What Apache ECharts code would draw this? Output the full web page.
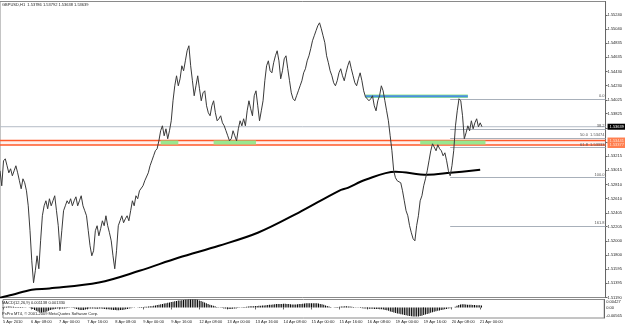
<!DOCTYPE html>
<html><head><meta charset="utf-8">
<script src="https://cdn.jsdelivr.net/npm/echarts@6/dist/echarts.min.js"></script>
<style>html,body{margin:0;padding:0;background:#fff}#c{width:625px;height:326px}</style>
</head><body><div id="c"></div>
<script>
// ---- data (GBPUSD H1, 5 Apr 16:00 .. 21 Apr 01:00) ----
const closes = [
1.53007,1.52792,1.53150,1.53179,1.53079,1.52978,1.53036,1.52935,1.53007,1.53079,
1.52978,1.52864,1.52749,1.52892,1.52835,1.52720,
1.52505,1.52147,1.51716,1.51401,
1.51573,1.51788,1.51602,1.52003,1.52362,
1.52505,1.52577,1.52462,1.52606,1.52505,
1.52577,1.52649,1.52434,1.52219,1.51860,
1.52147,1.52434,1.52505,1.52577,1.52534,
1.52606,1.52505,1.52577,1.52634,1.52505,
1.52577,1.52649,1.52505,1.52434,1.52362,
1.52147,1.51932,1.51788,1.51860,1.52147,
1.52219,1.52075,1.52176,1.52290,1.52219,
1.52362,1.52219,1.52118,1.52003,1.51788,
1.51602,1.51860,1.52219,1.52290,1.52362,
1.52262,1.52319,1.52362,1.52290,1.52434,
1.52577,1.52505,1.52649,1.52606,1.52720,
1.52692,1.52792,1.52864,1.52892,1.52978,
1.53079,1.53150,1.53222,1.53294,1.53323,
1.53437,1.53581,1.53652,1.53509,1.53609,
1.53466,1.53581,1.53724,1.54011,1.54226,
1.54369,1.54226,1.54326,1.54513,1.54441,
1.54584,1.54728,1.54800,1.54513,1.54298,
1.54083,1.54226,1.54369,1.54183,1.54011,
1.54125,1.54154,1.53939,1.53839,1.53796,
1.53939,1.54011,1.53839,1.53724,1.53753,
1.53796,1.53695,1.53652,1.53581,1.53509,
1.53437,1.53466,1.53581,1.53509,1.53437,
1.53609,1.53724,1.53652,1.53753,1.53652,
1.53867,1.54011,1.53896,1.53796,1.54083,
1.54154,1.53939,1.53724,1.53867,1.54011,
1.54298,1.54513,1.54584,1.54441,1.54412,
1.54556,1.54656,1.54728,1.54584,1.54326,
1.54441,1.54613,1.54656,1.54470,1.54298,
1.54125,1.54040,1.54011,1.54083,1.54154,
1.54226,1.54298,1.54412,1.54470,1.54584,
1.54656,1.54757,1.54871,1.54943,1.55015,
1.55086,1.55129,1.55043,1.54943,1.54843,
1.54656,1.54556,1.54441,1.54369,1.54269,
1.54226,1.54298,1.54412,1.54470,1.54369,
1.54298,1.54412,1.54513,1.54584,1.54470,
1.54369,1.54269,1.54226,1.54326,1.54412,
1.54298,1.54154,1.54068,1.54083,1.54011,
1.54040,1.54083,1.53939,1.53867,1.54011,
1.54083,1.54226,1.54154,1.54011,1.53867,
1.53724,1.53509,1.53294,1.53007,1.52907,
1.52864,1.52892,1.52835,1.52720,1.52577,
1.52434,1.52362,1.52219,1.52118,1.52032,
1.52003,1.52219,1.52362,1.52577,1.52649,
1.52792,1.52892,1.53007,1.53150,1.53294,
1.53394,1.53366,1.53294,1.53380,1.53323,
1.53294,1.53222,1.53265,1.53150,1.53007,
1.52935,1.53079,1.53294,1.53652,1.53867,
1.54040,1.54011,1.53796,1.53466,1.53552,
1.53652,1.53581,1.53724,1.53609,1.53695,
1.53753,1.53638,1.53695,1.53639
];
// moving average read at sample bars: [bar index, price]
const maPoints = [[0,1.51186],[7,1.51229],[18,1.51301],[28,1.51320],[56,1.51405],[79,1.51573],
[101,1.51760],[124,1.51932],[146,1.52118],[169,1.52405],[192,1.52720],[197,1.52763],
[207,1.52878],[224,1.52993],[242,1.52950],[255,1.52978],[272,1.53021]];
const macdHist = [
0.0003,0.0004,0.0004,0.0005,0.0005,0.0004,0.0004,0.0003,0.0003,0.0003,0.0002,0.0002,0.0001,0.0001,0.0000,-0.0002,-0.0004,-0.0008,
-0.0013,-0.0018,-0.0022,-0.0025,-0.0027,-0.0026,-0.0024,-0.0021,-0.0018,-0.0014,-0.0011,
-0.0009,-0.0007,-0.0005,-0.0004,-0.0005,-0.0006,-0.0005,-0.0004,-0.0003,-0.0002,-0.0002,
-0.0003,-0.0005,-0.0008,-0.0011,-0.0013,-0.0014,-0.0013,-0.0011,-0.0008,-0.0006,-0.0005,
-0.0005,-0.0006,-0.0007,-0.0007,-0.0006,-0.0006,
-0.0007,-0.0008,-0.0009,-0.0010,-0.0011,-0.0012,-0.0013,-0.0014,-0.0015,-0.0015,-0.0014,-0.0013,-0.0012,-0.0010,-0.0008,-0.0006,-0.0004,
-0.0002,-0.0001,0.0000,0.0001,0.0002,0.0003,0.0003,0.0004,0.0004,0.0005,0.0006,0.0007,0.0009,0.0011,
0.0013,0.0015,0.0017,0.0019,0.0021,0.0023,0.0025,0.0027,0.0029,0.0031,0.0033,0.0035,0.0037,0.0038,0.0039,0.0040,0.0041,0.0042,0.0043,0.0044,0.0044,0.0044,0.0043,0.0041,0.0038,
0.0035,0.0031,0.0027,0.0023,0.0019,0.0015,0.0012,0.0009,0.0006,
0.0003,0.0001,-0.0001,-0.0003,-0.0005,-0.0006,-0.0007,-0.0008,-0.0008,-0.0007,-0.0006,-0.0005,-0.0003,-0.0001,
0.0001,0.0002,0.0003,0.0004,0.0005,0.0006,0.0006,0.0007,0.0008,0.0008,0.0009,0.0009,0.0010,0.0011,0.0012,0.0013,0.0014,
0.0015,0.0016,0.0017,0.0018,0.0018,0.0019,0.0019,0.0020,0.0020,0.0019,0.0018,0.0017,0.0016,0.0016,0.0016,0.0017,0.0018,0.0019,0.0020,0.0021,0.0022,0.0022,0.0023,0.0023,0.0023,0.0022,0.0022,0.0021,0.0019,0.0017,0.0014,0.0011,0.0008,0.0005,
0.0002,0.0000,0.0001,0.0002,0.0003,0.0004,
0.0005,0.0005,0.0006,0.0006,0.0005,0.0005,0.0004,0.0003,0.0001,
-0.0001,-0.0002,-0.0003,-0.0004,-0.0005,-0.0006,-0.0006,-0.0007,-0.0007,-0.0007,-0.0008,-0.0008,-0.0008,-0.0009,-0.0010,-0.0011,-0.0013,
-0.0015,-0.0018,-0.0021,-0.0024,-0.0027,-0.0030,-0.0032,-0.0034,-0.0036,-0.0038,-0.0040,-0.0042,-0.0044,-0.0046,-0.0047,-0.0048,-0.0049,-0.0049,
-0.0048,-0.0046,-0.0044,-0.0041,-0.0038,-0.0035,-0.0032,-0.0029,-0.0026,-0.0023,-0.0020,-0.0018,-0.0016,-0.0014,-0.0012,-0.0010,-0.0008,-0.0006,-0.0004,-0.0002,0.0000,
0.0004,0.0009,0.0013,0.0016,0.0017,0.0017,0.0016,0.0015,0.0014,0.0014,0.0013,0.0013,0.0012,0.0012,0.0012,0.0011
];
const xTickLabels = ['5 Apr 2010','6 Apr 08:00','7 Apr 00:00','7 Apr 16:00','8 Apr 08:00','9 Apr 00:00',
'9 Apr 16:00','12 Apr 08:00','13 Apr 00:00','13 Apr 16:00','14 Apr 08:00','15 Apr 00:00',
'15 Apr 16:00','16 Apr 08:00','19 Apr 00:00','19 Apr 16:00','20 Apr 08:00','21 Apr 00:00'];
const yTickLabels = ['1.51190','1.51395','1.51595','1.51800','1.52000','1.52205','1.52405','1.52610',
'1.52810','1.53015','1.53215','1.53420','1.53620','1.53825','1.54025','1.54230','1.54430','1.54635',
'1.54835','1.55040','1.55240'];
const macdTickLabels = ['-0.00565','0.00','0.00427'];
const bidPrice = 1.53639;
const orangeLevels = [1.53441, 1.53377];
const greenZones = [[91,101,1.53413],[121,145,1.53413],[238,275,1.53413]];
const blueZone = [207,265,1.54077];
const fibStart = 255, fibLow = 1.52911, fibHigh = 1.54035;
const fibRatios = [0, 0.382, 0.5, 0.618, 1, 1.618];
const fibTexts = ['0.0','38.2','50.0  1.53474','61.8  1.53333','100.0','161.8'];
const headerText = 'GBPUSD,H1  1.53786 1.53792 1.53638 1.53639';
const macdText = 'MACD(12,26,9) 0.001138 0.001330';
const copyText = 'PsPro MT4, \u00a9 2001-2009 MetaQuotes Software Corp.';
const N = 344; // bar slots including the empty right-hand shift

// ---- chart ----
const FONT = 'Liberation Sans';
const FS = 4;
const cats = Array.from({length:N}, (_, i) => String(i));
const chart = echarts.init(document.getElementById('c'), null, {renderer:'canvas'});
const seg = (a, b, v) => [[a, v], [b, v]];
const series = [];
series.push({type:'line', name:'bid', data: seg(0, N-1, bidPrice), xAxisIndex:0, yAxisIndex:0,
  showSymbol:false, silent:true, lineStyle:{color:'#b4bcc6', width:1}, z:2,
  endLabel:{show:true, formatter:()=>bidPrice.toFixed(5), backgroundColor:'#000', color:'#fff',
    fontSize:FS, fontFamily:FONT, padding:[1,2,1,2], distance:2}});
orangeLevels.forEach((v, k) => series.push({type:'line', data: seg(0, N-1, v), showSymbol:false, silent:true,
  lineStyle:{color:'#ff5a2a', width:1.5}, z:3,
  endLabel:{show:true, formatter:()=>v.toFixed(5), backgroundColor:'#ff7f50', color:'#ffe0d0',
    fontSize:FS, fontFamily:FONT, padding:[1,2,1,2], distance:2}}));
series.push({type:'line', data: seg(0, N-1, orangeLevels[0]), showSymbol:false, silent:true,
  lineStyle:{width:0}, areaStyle:{color:'rgba(255,170,150,0.25)', origin: orangeLevels[1]}, z:1});
greenZones.forEach(g => series.push({type:'line', data: seg(g[0], g[1], g[2]), showSymbol:false, silent:true,
  lineStyle:{color:'#98e890', width:4}, z:4}));
series.push({type:'line', data: seg(blueZone[0], blueZone[1], blueZone[2]), showSymbol:false, silent:true,
  lineStyle:{color:'#98e890', width:3.5}, z:4});
series.push({type:'line', data: seg(blueZone[0], blueZone[1], blueZone[2]), showSymbol:false, silent:true,
  lineStyle:{color:'#4a8fe0', width:2}, z:5});
// fibonacci
const fibLevels = fibRatios.map(r => fibHigh - r*(fibHigh - fibLow));
series.push({type:'line', data:[], silent:true,
  markLine:{symbol:'none', silent:true, animation:false,
    lineStyle:{color:'#a8b0ba', width:1, type:'solid'},
    label:{position:'insideEndTop', fontSize:FS, fontFamily:FONT, color:'#555', distance:[1,1],
      formatter:(p)=>p.data.txt},
    data: fibLevels.map((v, k) => [{coord:[fibStart, v], txt:fibTexts[k]}, {coord:[N-1, v]}])
  }});
series.push({type:'line', name:'MA', data: maPoints, smooth:0.35, showSymbol:false, silent:true,
  lineStyle:{color:'#000', width:2}, z:6});
series.push({type:'line', name:'close', data: closes, showSymbol:false, silent:true,
  lineStyle:{color:'#3a3a3a', width:1}, z:7});
series.push({type:'bar', name:'MACD', data: macdHist, xAxisIndex:1, yAxisIndex:1, barWidth:1, silent:true,
  itemStyle:{color:'#000'}});

const labelInterval = (i) => i % 16 === 0 && i / 16 < xTickLabels.length;
chart.setOption({
  animation:false,
  backgroundColor:'#fff',
  textStyle:{fontFamily:FONT},
  grid:[
    {left:0, right:17, top:1.5, height:296, show:true, borderColor:'#8a8a8a', borderWidth:1},
    {left:0, right:17, top:299.5, height:18.5, show:true, borderColor:'#8a8a8a', borderWidth:1}
  ],
  xAxis:[
    {type:'category', gridIndex:0, data:cats, boundaryGap:false, axisLine:{show:false}, axisTick:{show:false},
      axisLabel:{show:false}, splitLine:{show:false}},
    {type:'category', gridIndex:1, data:cats, boundaryGap:false, axisLine:{show:false},
      axisTick:{show:true, interval:labelInterval, length:2, lineStyle:{color:'#666'}},
      axisLabel:{show:true, interval:labelInterval, formatter:(v, i)=>xTickLabels[i/16] || '',
        align:'left', fontSize:FS, fontFamily:FONT, color:'#222', margin:2}, splitLine:{show:false}}
  ],
  yAxis:[
    {type:'value', gridIndex:0, position:'right', min:1.5119, max:1.5119 + 296*0.0001434, scale:true,
      axisLine:{show:true, lineStyle:{color:'#666'}},
      axisTick:{show:true, length:2, customValues: yTickLabels.map(Number), lineStyle:{color:'#666'}},
      axisLabel:{show:true, customValues: yTickLabels.map(Number), formatter:(v)=>v.toFixed(5),
        fontSize:FS, fontFamily:FONT, color:'#222', margin:2},
      splitLine:{show:false}},
    {type:'value', gridIndex:1, position:'right', min:-0.00565, max:0.00427,
      axisLine:{show:true, lineStyle:{color:'#666'}},
      axisTick:{show:false},
      axisLabel:{show:true, customValues: macdTickLabels.map(Number),
        formatter:(v)=> macdTickLabels.find(s => Math.abs(Number(s) - v) < 1e-9) || '',
        verticalAlignMinLabel:'bottom', verticalAlignMaxLabel:'top',
        fontSize:FS, fontFamily:FONT, color:'#222', margin:2},
      splitLine:{show:false}}
  ],
  graphic:[
    {type:'text', left:2, top:3, silent:true, style:{text:headerText, fontSize:FS, fontFamily:FONT, fill:'#222'}},
    {type:'text', left:2, top:300.5, silent:true, style:{text:macdText, fontSize:FS, fontFamily:FONT, fill:'#222'}},
    {type:'text', left:2, top:311.5, silent:true, style:{text:copyText, fontSize:FS, fontFamily:FONT, fill:'#222'}}
  ],
  series: series
});
</script>
</body></html>
